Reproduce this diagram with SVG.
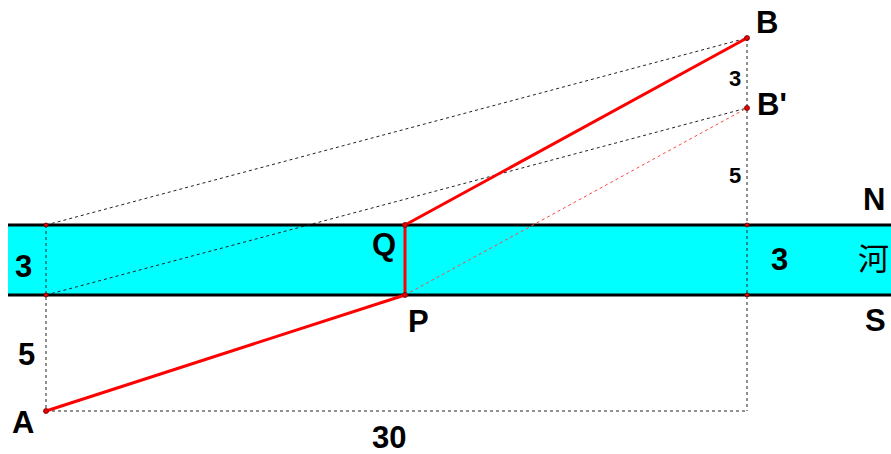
<svg xmlns="http://www.w3.org/2000/svg" width="891" height="454" viewBox="0 0 891 454">
<style>
.lbl{font-family:"Liberation Sans",Arial,sans-serif;font-weight:bold;font-size:31px;fill:#000}
.sm{font-family:"Liberation Sans",Arial,sans-serif;font-weight:bold;font-size:22px;fill:#000}
.cjk{font-family:"Noto Sans CJK SC",sans-serif;font-size:31px;fill:#000}
.dot{stroke:#222;stroke-width:1;stroke-dasharray:3 3;fill:none}
.rdot{stroke:#f44;stroke-width:1;stroke-dasharray:3 3;fill:none}
.red{stroke:#f00;stroke-width:3;fill:none}
.bank{stroke:#000;stroke-width:3}
.pt{fill:#e00;stroke:#600;stroke-width:0.8}
</style>
<rect width="891" height="454" fill="#fff"/>
<g id="river">
<rect x="8" y="225" width="883" height="70" fill="#00ffff"/>
<line class="bank" x1="8" y1="225" x2="891" y2="225"/>
<line class="bank" x1="8" y1="295" x2="891" y2="295"/>
</g>
<g id="connectors">
<line class="dot" x1="46" y1="225" x2="747" y2="38"/>
<line class="dot" x1="46" y1="295" x2="747" y2="108"/>
<line class="dot" x1="46" y1="225" x2="46" y2="411"/>
<line class="dot" x1="747" y1="38" x2="747" y2="411"/>
<line class="dot" x1="46" y1="411" x2="747" y2="411"/>
<line class="rdot" x1="405" y1="295" x2="747" y2="108"/>
<line class="red" x1="46" y1="411" x2="405" y2="295"/>
<line class="red" x1="405" y1="295" x2="405" y2="225"/>
<line class="red" x1="405" y1="225" x2="747" y2="38"/>
</g>
<g id="A"><circle class="pt" cx="46" cy="411" r="2.5"/><text class="lbl" x="12" y="433">A</text></g>
<g id="B"><circle class="pt" cx="747" cy="38" r="2.5"/><text class="lbl" x="756" y="33">B</text></g>
<g id="Bp"><circle class="pt" cx="747" cy="108" r="2.5"/><text class="lbl" x="757" y="115">B'</text></g>
<g id="P"><circle class="pt" cx="405" cy="295" r="2.5"/><text class="lbl" x="408" y="332">P</text></g>
<g id="Q"><circle class="pt" cx="405" cy="225" r="2.5"/><text class="lbl" x="372" y="255">Q</text></g>
<g id="L1"><circle class="pt" cx="46" cy="225" r="2"/></g>
<g id="L2"><circle class="pt" cx="46" cy="295" r="2"/></g>
<g id="R1"><circle class="pt" cx="747" cy="225" r="2"/></g>
<g id="R2"><circle class="pt" cx="747" cy="295" r="2"/></g>
<g id="labels">
<text class="sm" x="729" y="86">3</text>
<text class="sm" x="729" y="183">5</text>
<text class="lbl" x="863" y="210">N</text>
<text class="lbl" x="865" y="331">S</text>
<text class="cjk" x="858" y="270">河</text>
<text class="lbl" x="771" y="270">3</text>
<text class="lbl" x="15" y="277">3</text>
<text class="lbl" x="18" y="365">5</text>
<text class="lbl" x="372" y="448">30</text>
</g>
</svg>
